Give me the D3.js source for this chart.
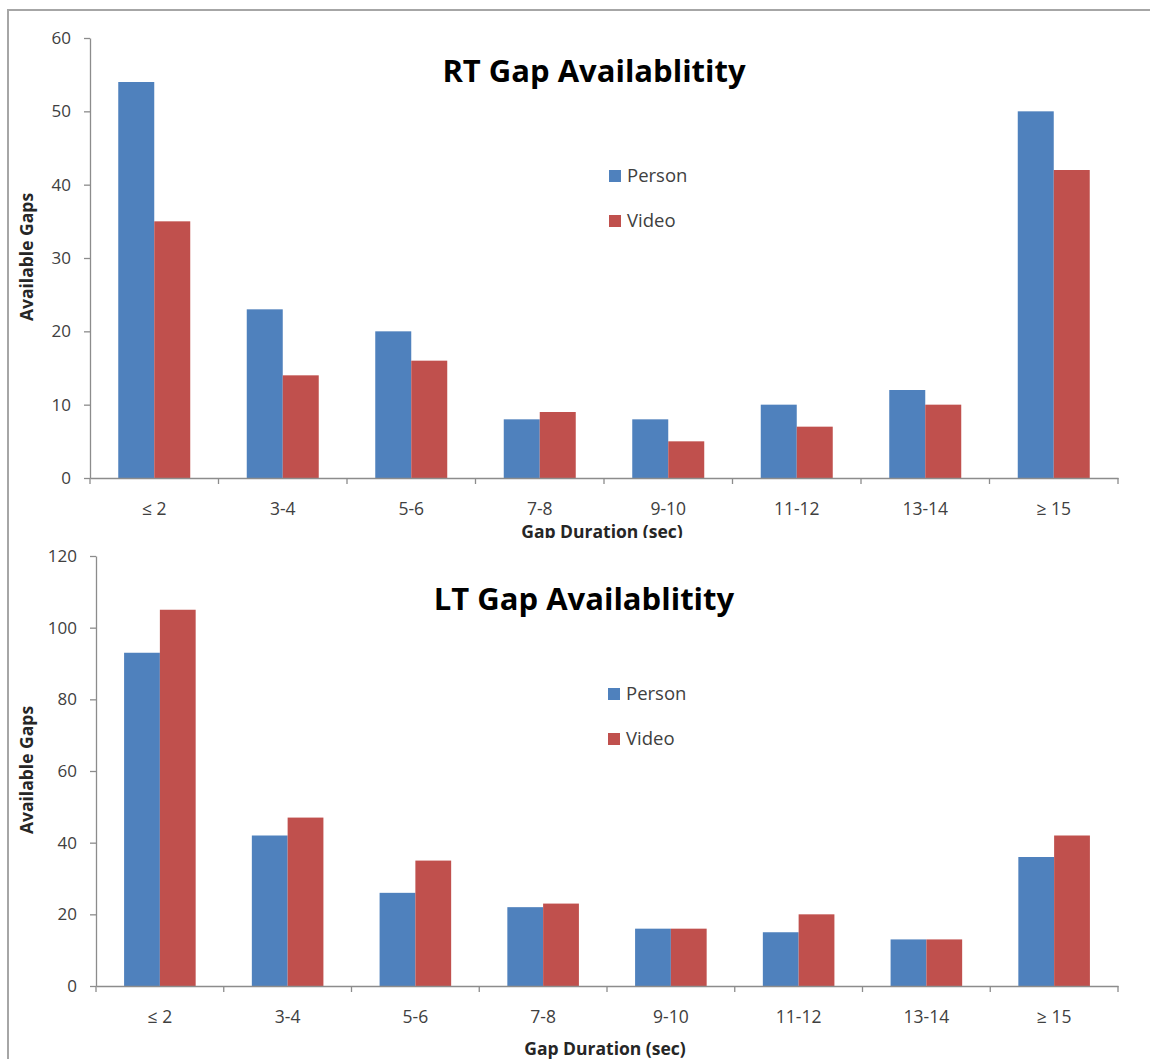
<!DOCTYPE html>
<html>
<head>
<meta charset="utf-8">
<script src="https://cdn.jsdelivr.net/npm/d3@7"></script>
<style>
  html, body { margin: 0; padding: 0; background: #fff; }
  svg { display: block; font-family: "Open Sans", Lato, sans-serif; }
</style>
</head>
<body>
<svg id="chart" width="1150" height="1059"></svg>
<script>
const categories = ["≤ 2", "3-4", "5-6", "7-8", "9-10", "11-12", "13-14", "≥ 15"];
const seriesNames = ["Person", "Video"];
const rtPerson = [54, 23, 20, 8, 8, 10, 12, 50];
const rtVideo  = [35, 14, 16, 9, 5, 7, 10, 42];
const ltPerson = [93, 42, 26, 22, 16, 15, 13, 36];
const ltVideo  = [105, 47, 35, 23, 16, 20, 13, 42];
const rtTicks = [0, 10, 20, 30, 40, 50, 60];
const ltTicks = [0, 20, 40, 60, 80, 100, 120];
const colors = ["#4F81BD", "#C0504D"];

const svg = d3.select("#chart");
const axisColor = "#8c8c8c";
const textColor = "#404040";
const FONT = "'Open Sans', Lato, sans-serif";

// outer frame (left and top edges)
svg.append("path")
  .attr("d", "M8,1059 L8,10 L1150,10")
  .attr("fill", "none").attr("stroke", "#a6a6a6").attr("stroke-width", 2);

function drawChart(cfg) {
  const g0 = svg.append("g");
  if (cfg.clip) {
    svg.append("clipPath").attr("id", cfg.id + "clip")
      .append("rect").attr("x", cfg.clip[0]).attr("y", cfg.clip[1])
      .attr("width", cfg.clip[2]).attr("height", cfg.clip[3]);
    g0.attr("clip-path", `url(#${cfg.id}clip)`);
  }
  const x = d3.scaleBand().domain(categories).range([cfg.left, cfg.right]).paddingInner(0).paddingOuter(0);
  const xs = d3.scaleBand().domain(seriesNames).range([0, x.bandwidth()]).paddingInner(0).paddingOuter(0.785);
  const y = d3.scaleLinear().domain([0, cfg.max]).range([cfg.bottom, cfg.top]);

  // bars
  const data = [cfg.person, cfg.video];
  seriesNames.forEach((s, si) => {
    g0.append("g").selectAll("rect").data(categories).join("rect")
      .attr("x", c => x(c) + xs(s))
      .attr("width", xs.bandwidth())
      .attr("y", (c, i) => y(data[si][i]))
      .attr("height", (c, i) => y(0) - y(data[si][i]))
      .attr("fill", colors[si]);
  });

  // y axis
  const ya = g0.append("g").attr("transform", `translate(${cfg.left},0)`)
    .call(d3.axisLeft(y).tickValues(cfg.ticks).tickSize(6).tickPadding(13).tickSizeOuter(0));
  ya.select(".domain").attr("stroke", axisColor).attr("stroke-width", 1.3);
  ya.selectAll(".tick line").attr("stroke", axisColor).attr("stroke-width", 1.3);
  ya.selectAll(".tick text").attr("fill", textColor).style("font-size", "17px").style("font-family", FONT);

  // x axis
  const xa = g0.append("g").attr("transform", `translate(0,${cfg.bottom})`)
    .call(d3.axisBottom(x).tickSize(0).tickPadding(25).tickSizeOuter(0));
  xa.select(".domain").attr("stroke", axisColor).attr("stroke-width", 1.3);
  xa.selectAll(".tick text").attr("fill", textColor).style("font-size", "17.5px").style("font-family", FONT);
  // boundary tick marks
  const bounds = categories.map(c => x(c)).concat([cfg.right]);
  g0.append("g").selectAll("line").data(bounds).join("line")
    .attr("x1", d => d).attr("x2", d => d)
    .attr("y1", cfg.bottom).attr("y2", cfg.bottom + 6)
    .attr("stroke", axisColor).attr("stroke-width", 1.3);

  // axis titles
  g0.append("text").attr("x", (cfg.left + cfg.right) / 2 - 2).attr("y", cfg.xTitleY)
    .attr("text-anchor", "middle").attr("fill", "#262626")
    .style("font-size", "17.5px").style("font-weight", "bold").text("Gap Duration (sec)");
  g0.append("text")
    .attr("transform", `translate(33,${cfg.yTitleY}) rotate(-90)`)
    .attr("text-anchor", "middle").attr("fill", "#262626")
    .style("font-size", "17.5px").style("font-weight", "bold").text("Available Gaps");

  // chart title
  g0.append("text").attr("x", cfg.titleX).attr("y", cfg.titleY)
    .attr("text-anchor", "middle").attr("fill", "#000")
    .style("font-size", "31px").style("font-weight", "bold").text(cfg.title);

  // legend
  const lg = g0.append("g");
  seriesNames.forEach((s, i) => {
    const ly = cfg.legendY + i * 45;
    lg.append("rect").attr("x", cfg.legendX).attr("y", ly - 6).attr("width", 12).attr("height", 12).attr("fill", colors[i]);
    lg.append("text").attr("x", cfg.legendX + 18).attr("y", ly).attr("dy", "0.35em")
      .attr("fill", textColor).style("font-size", "18.5px").text(s);
  });
}

drawChart({
  id: "rt", title: "RT Gap Availablitity",
  person: rtPerson, video: rtVideo, ticks: rtTicks, max: 60,
  left: 90, right: 1118, top: 38, bottom: 478,
  xTitleY: 538, yTitleY: 257, titleX: 594, titleY: 82,
  legendX: 609, legendY: 176,
  clip: [0, 0, 1150, 538]
});

drawChart({
  id: "lt", title: "LT Gap Availablitity",
  person: ltPerson, video: ltVideo, ticks: ltTicks, max: 120,
  left: 96, right: 1118, top: 556, bottom: 986,
  xTitleY: 1055, yTitleY: 770, titleX: 584, titleY: 610,
  legendX: 608, legendY: 694,
  clip: null
});
</script>
</body>
</html>
